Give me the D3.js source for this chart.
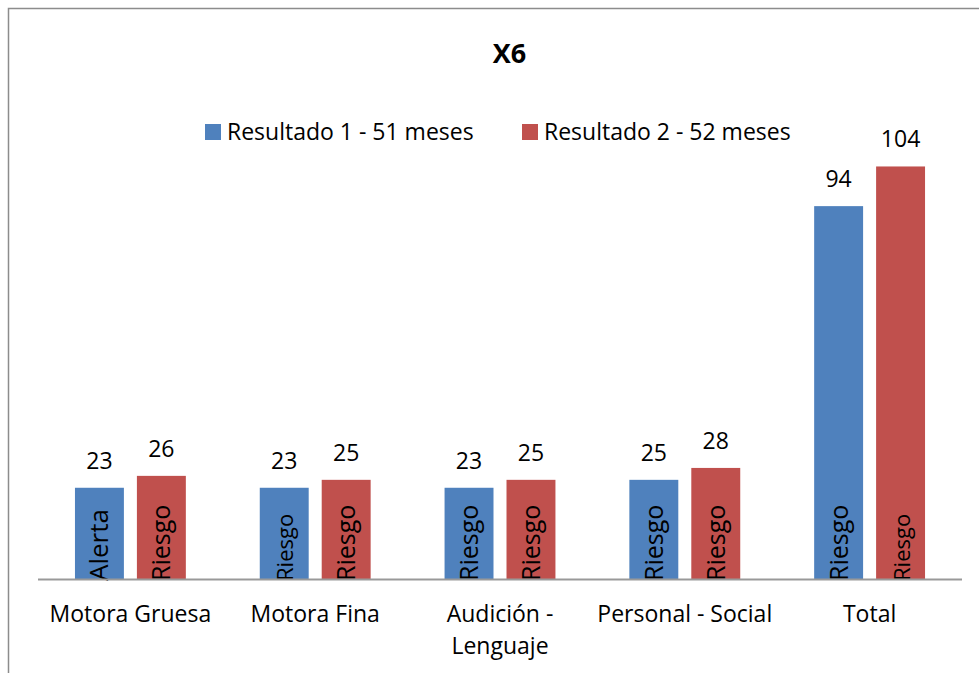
<!DOCTYPE html>
<html>
<head>
<meta charset="utf-8">
<script src="https://cdn.jsdelivr.net/npm/d3@7"></script>
<style>
  html, body { margin: 0; padding: 0; background: #fff; }
  svg { display: block; font-family: "Open Sans", "Noto Sans", sans-serif; }
</style>
</head>
<body>
<svg id="chart" width="979" height="673"></svg>
<script>
// ---- data ----
const title = "X6";
const categories = ["Motora Gruesa", "Motora Fina", "Audición - Lenguaje", "Personal - Social", "Total"];
const categoryLines = [["Motora Gruesa"], ["Motora Fina"], ["Audición -", "Lenguaje"], ["Personal - Social"], ["Total"]];
const seriesNames = ["Resultado 1 - 51 meses", "Resultado 2 - 52 meses"];
const result1 = [23, 23, 23, 25, 94];
const result2 = [26, 25, 25, 28, 104];
const labels1 = ["Alerta", "Riesgo", "Riesgo", "Riesgo", "Riesgo"];
const labels2 = ["Riesgo", "Riesgo", "Riesgo", "Riesgo", "Riesgo"];

// ---- style ----
const colors = ["#4F81BD", "#C0504D"];
const innerSize1 = [26, 22, 25, 25, 25];
const innerSize2 = [25, 25, 25, 25, 22];

const svg = d3.select("#chart");
const W = 979, H = 673;

// outer border
svg.append("rect")
  .attr("x", 8.5).attr("y", 8.5)
  .attr("width", 1100).attr("height", 800)
  .attr("fill", "none").attr("stroke", "#8c8c8c").attr("stroke-width", 1.5);

const x0 = d3.scaleBand().domain(categories).range([38, 962])
  .paddingInner(0.4).paddingOuter(0.2);
const x1 = d3.scaleBand().domain([0, 1]).range([0, x0.bandwidth()])
  .paddingInner(0.21).paddingOuter(0);
const y = d3.scaleLinear().domain([0, 120]).range([579, 103]);

const series = [result1, result2];
const innerLabels = [labels1, labels2];
const innerSizes = [innerSize1, innerSize2];

const rows = [];
categories.forEach((c, i) => {
  series.forEach((s, k) => {
    rows.push({ cat: c, k, v: s[i], lab: innerLabels[k][i], size: innerSizes[k][i] });
  });
});

const g = svg.append("g");

g.selectAll("rect.bar").data(rows).join("rect")
  .attr("class", "bar")
  .attr("x", d => x0(d.cat) + x1(d.k))
  .attr("y", d => y(d.v))
  .attr("width", x1.bandwidth())
  .attr("height", d => y(0) - y(d.v))
  .attr("fill", d => colors[d.k]);

// value labels
g.selectAll("text.val").data(rows).join("text")
  .attr("class", "val")
  .attr("x", d => x0(d.cat) + x1(d.k) + x1.bandwidth() / 2)
  .attr("y", d => y(d.v) - 19)
  .attr("text-anchor", "middle")
  .attr("font-size", 23)
  .attr("fill", "#000")
  .text(d => d.v);

// inner rotated labels
g.selectAll("text.inner").data(rows).join("text")
  .attr("class", "inner")
  .attr("transform", d => {
    const cx = x0(d.cat) + x1(d.k) + x1.bandwidth() / 2 + 9;
    return `translate(${cx},${y(0) + 2}) rotate(-90)`;
  })
  .attr("text-anchor", "start")
  .attr("font-size", d => d.size)
  .attr("fill", "#000")
  .text(d => d.lab);

// x axis line
svg.append("line")
  .attr("x1", 38).attr("x2", 962)
  .attr("y1", y(0) + 0.5).attr("y2", y(0) + 0.5)
  .attr("stroke", "#999").attr("stroke-width", 2);

// category labels
const catG = svg.append("g");
categories.forEach((c, i) => {
  const t = catG.append("text")
    .attr("x", x0(c) + x0.bandwidth() / 2)
    .attr("y", 622)
    .attr("text-anchor", "middle")
    .attr("font-size", 23)
    .attr("fill", "#000");
  categoryLines[i].forEach((line, j) => {
    t.append("tspan")
      .attr("x", x0(c) + x0.bandwidth() / 2)
      .attr("dy", j === 0 ? 0 : 32)
      .text(line);
  });
});

// title
svg.append("text")
  .attr("x", 509.5).attr("y", 63)
  .attr("text-anchor", "middle")
  .attr("font-size", 27)
  .attr("font-weight", "bold")
  .text(title);

// legend
const legendX = [205, 522];
seriesNames.forEach((name, k) => {
  const lg = svg.append("g").attr("transform", `translate(${legendX[k]},124)`);
  lg.append("rect").attr("width", 16).attr("height", 16).attr("fill", colors[k]);
  lg.append("text").attr("x", 22).attr("y", 15.5)
    .attr("font-size", 23).attr("fill", "#000").text(name);
});
</script>
</body>
</html>
